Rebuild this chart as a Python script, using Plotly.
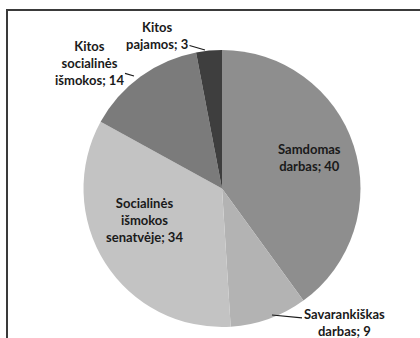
import plotly.graph_objects as go

labels = ["Samdomas darbas", "Savarankiškas darbas", "Socialinės išmokos senatvėje",
          "Kitos socialinės išmokos", "Kitos pajamos"]
values = [40, 9, 34, 14, 3]
colors = ["#8e8e8e", "#b3b3b3", "#c3c3c3", "#7b7b7b", "#3e3e3e"]

# text of each label as it is broken in the picture
label_lines = [["Samdomas", "darbas; {}"], ["Savarankiškas", "darbas; {}"],
               ["Socialinės", "išmokos", "senatvėje; {}"],
               ["Kitos", "socialinės", "išmokos; {}"], ["Kitos", "pajamos; {}"]]

W, H = 420, 338

fig = go.Figure(go.Pie(
    labels=labels, values=values, sort=False, direction="clockwise", rotation=0,
    marker=dict(colors=colors, line=dict(width=0)),
    textinfo="none", hoverinfo="label+value", showlegend=False,
    domain=dict(x=[(222 - 142) / W, (222 + 142) / W], y=[1 - 327 / H, 1 - 50 / H]),
))

# label placement (pixel centre of text, optional leader line end)
label_pos = [
    dict(cx=309, cy=157),
    dict(cx=344, cy=322, tip=(272, 315)),
    dict(cx=144, cy=220),
    dict(cx=89, cy=63, tip=(134, 76)),
    dict(cx=157, cy=36, tip=(205, 50)),
]

for lines, v, p in zip(label_lines, values, label_pos):
    txt = "<b>" + "<br>".join(lines).format(v) + "</b>"
    if "tip" in p:
        tx, ty = p["tip"]
        fig.add_annotation(
            x=tx / W, y=1 - ty / H, xref="paper", yref="paper",
            ax=p["cx"] - tx, ay=p["cy"] - ty, axref="pixel", ayref="pixel",
            text=txt, showarrow=True, arrowhead=0, arrowwidth=1.2,
            arrowcolor="#1a1a1a", standoff=0, startstandoff=0,
        )
    else:
        fig.add_annotation(x=p["cx"] / W, y=1 - p["cy"] / H, xref="paper", yref="paper",
                           text=txt, showarrow=False)

fig.update_annotations(font=dict(family="Lato", size=13, color="#1a1a1a"),
                       align="center", xanchor="center", yanchor="middle")

# chart area frame
fig.add_shape(type="rect", xref="paper", yref="paper",
              x0=7 / W, x1=1.2, y0=-0.2, y1=1 - 10 / H,
              line=dict(color="#3a3a3a", width=2))

fig.update_layout(
    width=W, height=H, margin=dict(l=0, r=0, t=0, b=0),
    paper_bgcolor="white", plot_bgcolor="white",
    font=dict(family="Lato"),
)

# page has a default 8px body margin, drop it so the figure fills the window
fig.write_html("out.html", config={"displayModeBar": False},
               post_script="document.body.style.margin='0';")
